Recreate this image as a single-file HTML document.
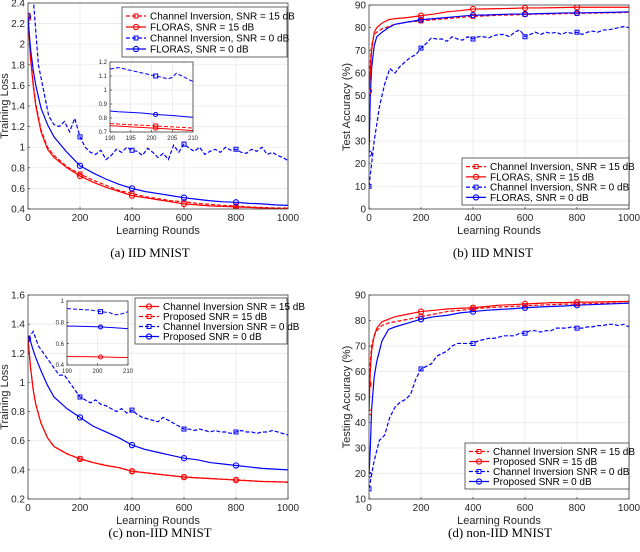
<!DOCTYPE html>
<html><head><meta charset="utf-8"><style>
html,body{margin:0;padding:0;background:#fff;}
svg{display:block;font-family:"Liberation Sans",sans-serif;}
.cap{font-family:"Liberation Serif",serif;font-size:13px;fill:#000;}
</style></head><body>
<svg id="fig" width="640" height="552" viewBox="0 0 640 552" xmlns="http://www.w3.org/2000/svg"></svg>
<script>
// ---------- data ----------
const roundsSmooth = [0,5,10,20,30,50,75,100,150,200,250,300,350,400,450,500,550,600,650,700,750,800,850,900,950,1000];
const markerRounds = [0,200,400,600,800];
// (a) IID MNIST training loss
const aFL15 = [2.25,2.05,1.85,1.6,1.4,1.15,0.98,0.9,0.8,0.72,0.66,0.61,0.57,0.53,0.51,0.49,0.47,0.45,0.44,0.43,0.425,0.42,0.415,0.41,0.405,0.40];
const aCI15 = [2.28,2.08,1.88,1.62,1.42,1.17,1.0,0.92,0.81,0.74,0.68,0.63,0.58,0.55,0.52,0.5,0.48,0.47,0.455,0.445,0.435,0.43,0.42,0.415,0.41,0.41];
const aFL0 = [2.27,2.1,1.95,1.75,1.6,1.38,1.22,1.1,0.95,0.82,0.75,0.69,0.64,0.60,0.57,0.55,0.53,0.51,0.495,0.48,0.47,0.465,0.455,0.45,0.44,0.435];
const aCI0 = [2.45,2.45,1.8,1.55,1.3,1.22,1.2,1.25,1.15,1.28,1.1,1.0,0.95,0.93,0.97,0.88,0.92,0.98,0.95,1.0,0.97,0.96,0.92,0.99,0.95,0.9,0.94,0.88,1.02,0.95,1.03,0.99,0.96,1.0,0.93,0.96,0.98,0.95,1.0,0.97,0.98,0.95,0.94,0.98,0.96,1.0,0.93,0.95,0.92,0.9,0.87];
const insetRounds = [190,192,195,198,201,204,205,206,208,210];
const aInCI0 = [1.15,1.16,1.14,1.12,1.1,1.08,1.09,1.12,1.09,1.06];
const aInFL0 = [0.85,0.845,0.84,0.835,0.825,0.82,0.818,0.815,0.81,0.805];
const aInCI15 = [0.76,0.757,0.752,0.748,0.743,0.738,0.737,0.735,0.732,0.728];
const aInFL15 = [0.745,0.742,0.737,0.732,0.727,0.722,0.72,0.718,0.714,0.71];
// (b) IID MNIST accuracy
const bFL15 = [52,60,70,78,80,82,83.5,84,84.5,85.3,86,87,87.5,88.2,88.3,88.4,88.5,88.7,88.7,88.8,88.9,89,89,89,89,89];
const bCI15 = [59,65,72,77,78,79.5,80.5,81.5,82.5,83,83.5,84,84.5,85,85.2,85.5,85.6,85.8,86,86,86.2,86.3,86.4,86.5,86.6,86.8];
const bFL0 = [24.5,50,62,72,76,78,80,81.5,82.5,83.5,84,84.5,85,85.5,85.6,85.8,86,86,86.2,86.3,86.5,86.5,86.6,86.7,86.8,87];
const bCI0 = [10,30,45,55,62,60,63,65,67,68,71,73,75.5,75,75,74,76,75,74.5,76,75,76,76,75.5,76.5,77,77,76,78,79,76,77,78,77,78,77.5,78,77,78,77.5,78,77,78,78.5,78,79,79,79.5,80,80.5,80];
// (c) non-IID training loss
const cCI15 = [1.3,1.2,1.1,0.95,0.85,0.72,0.62,0.56,0.51,0.475,0.45,0.43,0.415,0.39,0.38,0.37,0.36,0.35,0.345,0.34,0.335,0.33,0.325,0.32,0.318,0.315];
const cPR15 = [1.3,1.2,1.1,0.95,0.85,0.72,0.62,0.56,0.51,0.476,0.451,0.431,0.416,0.391,0.381,0.371,0.361,0.351,0.346,0.341,0.336,0.331,0.326,0.321,0.319,0.316];
const cPR0 = [1.3,1.3,1.28,1.22,1.17,1.08,0.98,0.9,0.82,0.76,0.7,0.66,0.62,0.57,0.54,0.52,0.5,0.48,0.47,0.45,0.44,0.43,0.42,0.41,0.405,0.40];
const cCI0 = [1.3,1.35,1.25,1.2,1.15,1.1,1.05,1.05,1.0,0.95,0.9,0.88,0.86,0.88,0.85,0.84,0.82,0.8,0.82,0.79,0.81,0.78,0.76,0.75,0.74,0.73,0.76,0.74,0.72,0.70,0.68,0.68,0.67,0.68,0.67,0.66,0.67,0.66,0.66,0.65,0.66,0.67,0.66,0.66,0.65,0.66,0.66,0.67,0.66,0.65,0.64];
const cInCI0 = [0.93,0.925,0.92,0.915,0.9,0.89,0.88,0.87,0.88,0.9];
const cInPR0 = [0.765,0.764,0.762,0.76,0.757,0.752,0.75,0.748,0.745,0.74];
const cInRed = [0.48,0.479,0.478,0.477,0.475,0.474,0.473,0.472,0.471,0.47];
// (d) non-IID accuracy
const dPR15 = [44,60,68,74,77,79.5,80.5,81.5,82.5,83.5,84,84.5,84.8,85,85.5,86,86.2,86.5,86.7,87,87,87.2,87.2,87.3,87.4,87.5];
const dCI15 = [55,64,70,74,76,78,79,79.5,80.5,81.5,82.5,83.5,84,84.5,85,85.3,85.5,85.8,86,86.2,86.4,86.5,86.6,86.7,86.8,86.8];
const dPR0 = [19.5,30,45,58,64,72,76.5,77.5,79,80.5,81.5,82,83,83.5,84,84.3,84.6,85,85.3,85.5,85.7,86,86.2,86.4,86.6,86.8];
const dCI0 = [14,25,33,35,42,46,48,49,51,57,61,62,63,66,67,68,70,71,71,71,71,72,72.5,73,73,73.5,74,74,74,75,75,76,76,75.5,76,76,77,77,77,77.5,77,77,77.5,77.5,78,78,78.5,78.5,78,78.5,77.5];
const xTicks = [0,200,400,600,800,1000];
const lossTicksA = [0.4,0.6,0.8,1,1.2,1.4,1.6,1.8,2,2.2,2.4];
const accTicksB = [0,10,20,30,40,50,60,70,80,90];
const lossTicksC = [0.2,0.4,0.6,0.8,1,1.2,1.4,1.6];
const accTicksD = [10,20,30,40,50,60,70,80,90];
const insetXTicks = [190,195,200,205,210];

// ---------- drawing ----------
const NS = "http://www.w3.org/2000/svg";
const svg = document.getElementById('fig');
function mk(tag, attrs, parent){const e=document.createElementNS(NS,tag);for(const k in attrs)e.setAttribute(k,attrs[k]);(parent||svg).appendChild(e);return e;}
let clipId=0;
function axes(o){
  const g = mk('g',{});
  
  
  const sx = v => o.x0 + (v - o.xmin)/(o.xmax-o.xmin)*(o.x1-o.x0);
  const sy = v => o.y1 - (v - o.ymin)/(o.ymax-o.ymin)*(o.y1-o.y0);
  mk('rect',{x:o.x0,y:o.y0,width:o.x1-o.x0,height:o.y1-o.y0,fill:'#fff'},g);
  const grid = mk('g',{stroke:'#e6e6e6','stroke-width':0.7},g);
  
  
  o.xt.forEach(v=>{mk('line',{x1:sx(v),x2:sx(v),y1:o.y0,y2:o.y1},grid);});
  o.yt.forEach(v=>{mk('line',{x1:o.x0,x2:o.x1,y1:sy(v),y2:sy(v)},grid);});
  const fs=o.fs||10;
  o.xt.forEach(v=>{const t=mk('text',{x:sx(v),y:o.y1+fs+2,'font-size':fs,'text-anchor':'middle',fill:'#262626'},g);t.textContent=v;
    
    
    mk('line',{x1:sx(v),x2:sx(v),y1:o.y1,y2:o.y1-2,stroke:'#262626','stroke-width':0.6},g);});
  o.yt.forEach(v=>{const t=mk('text',{x:o.x0-3,y:sy(v)+fs*0.35,'font-size':fs,'text-anchor':'end',fill:'#262626'},g);t.textContent=v;
    
    
    mk('line',{x1:o.x0,x2:o.x0+2,y1:sy(v),y2:sy(v),stroke:'#262626','stroke-width':0.6},g);});
  const cid='clip'+(clipId++);
  const cp=mk('clipPath',{id:cid},g); mk('rect',{x:o.x0,y:o.y0,width:o.x1-o.x0,height:o.y1-o.y0},cp);
  const plot=mk('g',{'clip-path':'url(#'+cid+')'},g);
  o.series.forEach(s=>{
    const xs = s.x || s.y.map((_,i)=>o.xmin+i*(o.xmax-o.xmin)/(s.y.length-1));
    const d = s.y.map((v,i)=>(i?'L':'M')+sx(xs[i]).toFixed(2)+','+sy(v).toFixed(2)).join('');
    const p = mk('path',{d:d,fill:'none',stroke:s.c,'stroke-width':o.lw||1.2,'stroke-dasharray':s.dash?'4,2':'none'},plot);
    
    
    (s.mk||[]).forEach(r=>{
      let k=0; for(let i=0;i<xs.length;i++) if(Math.abs(xs[i]-r)<Math.abs(xs[k]-r)) k=i;
      const cx=sx(xs[k]), cy=sy(s.y[k]);
      let m;
      if(s.sq) m=mk('rect',{x:cx-2,y:cy-2,width:4,height:4,fill:'none',stroke:s.c,'stroke-width':1},plot);
      else m=mk('circle',{cx:cx,cy:cy,r:o.mr||2.6,fill:'none',stroke:s.c,'stroke-width':1.1},plot);
      
      
    });
  });
  mk('rect',{x:o.x0,y:o.y0,width:o.x1-o.x0,height:o.y1-o.y0,fill:'none',stroke:'#262626','stroke-width':0.7},g);
  if(o.xlabel){const t=mk('text',{x:(o.x0+o.x1)/2,y:o.y1+25,'font-size':11,'text-anchor':'middle',fill:'#262626'},g);t.textContent=o.xlabel;
    }
  if(o.ylabel){const yy=(o.y0+o.y1)/2;const t=mk('text',{x:o.ylx,y:yy,'font-size':11,'text-anchor':'middle',fill:'#262626',transform:'rotate(-90 '+o.ylx+' '+yy+')'},g);t.textContent=o.ylabel;
    }
  if(o.legend){
    const L=o.legend;
    const lg=mk('g',{},g);
    
    
    mk('rect',{x:L.x,y:L.y,width:L.w,height:L.h,fill:'#fff',stroke:'#262626','stroke-width':0.7},lg);
    L.items.forEach((it,i)=>{
      const yy=L.y+7+i*(L.h-6)/L.items.length+ (L.h-6)/L.items.length/2-3.5;
      const ent=mk('g',{},lg);
      
      
      mk('line',{x1:L.x+4,x2:L.x+24,y1:yy,y2:yy,stroke:it.c,'stroke-width':1.2,'stroke-dasharray':it.dash?'4,2':'none'},ent);
      if(it.sq) mk('rect',{x:L.x+12,y:yy-2,width:4,height:4,fill:'none',stroke:it.c},ent);
      else mk('circle',{cx:L.x+14,cy:yy,r:2.6,fill:'none',stroke:it.c,'stroke-width':1.1},ent);
      const t=mk('text',{x:L.x+28,y:yy+3.5,'font-size':10,fill:'#000'},ent);t.textContent=it.t;
    });
  }
  return g;
}
function caption(x,y,txt,name){const t=mk('text',{x:x,y:y,'text-anchor':'middle',class:'cap'});t.textContent=txt;
  }

const R='#ff0000', B='#0000ff';
// (a)
axes({name:'panel-a',x0:28,x1:288,y0:3,y1:209,xmin:0,xmax:1000,ymin:0.4,ymax:2.4,xt:xTicks,yt:lossTicksA,
  xlabel:'Learning Rounds',ylabel:'Training Loss',ylx:8,
  series:[
   {name:'a-ci-0db',y:aCI0,c:B,dash:1,sq:1,mk:markerRounds},
   {name:'a-ci-15db',x:roundsSmooth,y:aCI15,c:R,dash:1,sq:1,mk:markerRounds},
   {name:'a-floras-15db',x:roundsSmooth,y:aFL15,c:R,mk:markerRounds},
   {name:'a-floras-0db',x:roundsSmooth,y:aFL0,c:B,mk:markerRounds}],
  legend:{x:122,y:7,w:165,h:50,items:[
   {t:'Channel Inversion, SNR = 15 dB',c:R,dash:1,sq:1},{t:'FLORAS, SNR = 15 dB',c:R},
   {t:'Channel Inversion, SNR = 0 dB',c:B,dash:1,sq:1},{t:'FLORAS, SNR = 0 dB',c:B}]}});
axes({name:'inset-a',x0:110,x1:193,y0:62,y1:132,xmin:190,xmax:210,ymin:0.7,ymax:1.2,xt:insetXTicks,yt:[0.7,0.8,0.9,1,1.1,1.2],fs:6,lw:1,mr:2,
  series:[
   {name:'inset-a-ci-0db',x:insetRounds,y:aInCI0,c:B,dash:1,sq:1,mk:[201]},
   {name:'inset-a-floras-0db',x:insetRounds,y:aInFL0,c:B,mk:[201]},
   {name:'inset-a-ci-15db',x:insetRounds,y:aInCI15,c:R,dash:1,sq:1,mk:[201]},
   {name:'inset-a-floras-15db',x:insetRounds,y:aInFL15,c:R,mk:[201]}]});
caption(150,257,'(a)  IID MNIST','caption-a');
// (b)
axes({name:'panel-b',x0:369,x1:629,y0:5,y1:209,xmin:0,xmax:1000,ymin:0,ymax:90,xt:xTicks,yt:accTicksB,
  xlabel:'Learning Rounds',ylabel:'Test Accuracy (%)',ylx:350,
  series:[
   {name:'b-ci-0db',y:bCI0,c:B,dash:1,sq:1,mk:markerRounds},
   {name:'b-ci-15db',x:roundsSmooth,y:bCI15,c:R,dash:1,sq:1,mk:markerRounds},
   {name:'b-floras-0db',x:roundsSmooth,y:bFL0,c:B,mk:markerRounds},
   {name:'b-floras-15db',x:roundsSmooth,y:bFL15,c:R,mk:markerRounds}],
  legend:{x:462,y:158,w:167,h:47,items:[
   {t:'Channel Inversion, SNR = 15 dB',c:R,dash:1,sq:1},{t:'FLORAS, SNR = 15 dB',c:R},
   {t:'Channel Inversion, SNR = 0 dB',c:B,dash:1,sq:1},{t:'FLORAS, SNR = 0 dB',c:B}]}});
caption(493,257,'(b)  IID MNIST','caption-b');
// (c)
axes({name:'panel-c',x0:28,x1:288,y0:295,y1:499,xmin:0,xmax:1000,ymin:0.2,ymax:1.6,xt:xTicks,yt:lossTicksC,
  xlabel:'Learning Rounds',ylabel:'Training Loss',ylx:8,
  series:[
   {name:'c-ci-0db',y:cCI0,c:B,dash:1,sq:1,mk:markerRounds},
   {name:'c-proposed-15db',x:roundsSmooth,y:cPR15,c:R,dash:1,sq:1,mk:markerRounds},
   {name:'c-ci-15db',x:roundsSmooth,y:cCI15,c:R,mk:markerRounds},
   {name:'c-proposed-0db',x:roundsSmooth,y:cPR0,c:B,mk:markerRounds}],
  legend:{x:135,y:298,w:152,h:46,items:[
   {t:'Channel Inversion SNR = 15 dB',c:R},{t:'Proposed SNR = 15 dB',c:R,dash:1,sq:1},
   {t:'Channel Inversion SNR = 0 dB',c:B,dash:1,sq:1},{t:'Proposed SNR = 0 dB',c:B}]}});
axes({name:'inset-c',x0:67,x1:128,y0:301,y1:365,xmin:190,xmax:210,ymin:0.4,ymax:1.0,xt:[190,200,210],yt:[0.4,0.6,0.8,1],fs:6,lw:1,mr:2,
  series:[
   {name:'inset-c-ci-0db',x:insetRounds,y:cInCI0,c:B,dash:1,sq:1,mk:[201]},
   {name:'inset-c-proposed-0db',x:insetRounds,y:cInPR0,c:B,mk:[201]},
   {name:'inset-c-red',x:insetRounds,y:cInRed,c:R,mk:[201]}]});
caption(160,537,'(c)  non-IID MNIST','caption-c');
// (d)
axes({name:'panel-d',x0:369,x1:629,y0:295,y1:499,xmin:0,xmax:1000,ymin:10,ymax:90,xt:xTicks,yt:accTicksD,
  xlabel:'Learning Rounds',ylabel:'Testing Accuracy (%)',ylx:350,
  series:[
   {name:'d-ci-0db',y:dCI0,c:B,dash:1,sq:1,mk:markerRounds},
   {name:'d-ci-15db',x:roundsSmooth,y:dCI15,c:R,dash:1,sq:1,mk:markerRounds},
   {name:'d-proposed-0db',x:roundsSmooth,y:dPR0,c:B,mk:markerRounds},
   {name:'d-proposed-15db',x:roundsSmooth,y:dPR15,c:R,mk:markerRounds}],
  legend:{x:465,y:443,w:164,h:46,items:[
   {t:'Channel Inversion SNR = 15 dB',c:R,dash:1,sq:1},{t:'Proposed SNR = 15 dB',c:R},
   {t:'Channel Inversion SNR = 0 dB',c:B,dash:1,sq:1},{t:'Proposed SNR = 0 dB',c:B}]}});
caption(500,537,'(d)  non-IID MNIST','caption-d');
</script>
</body></html>
